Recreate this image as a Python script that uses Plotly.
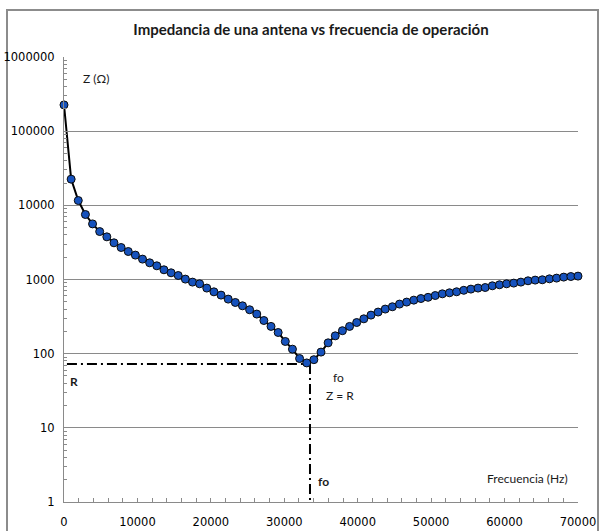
import plotly.graph_objects as go

# Frequency (Hz) of each measured point
frecuencia = [0, 972, 1944, 2917, 3889, 4861, 5833, 6806, 7778, 8750, 9722, 10694,
              11667, 12639, 13611, 14583, 15556, 16528, 17500, 18472, 19444, 20417,
              21389, 22361, 23333, 24306, 25278, 26250, 27222, 28194, 29167, 30139,
              31111, 32083, 33056, 34028, 35000, 35972, 36944, 37917, 38889, 39861,
              40833, 41806, 42778, 43750, 44722, 45694, 46667, 47639, 48611, 49583,
              50556, 51528, 52500, 53472, 54444, 55417, 56389, 57361, 58333, 59306,
              60278, 61250, 62222, 63194, 64167, 65139, 66111, 67083, 68056, 69028, 70000]

# Impedance magnitude Z (ohm)
impedancia = [226000, 22540, 11610, 7520, 5620, 4430, 3760, 3123, 2700, 2385, 2132, 1883,
              1679, 1530, 1352, 1231, 1132, 1012, 922, 875, 766, 682,
              616, 544, 490, 442, 391, 342, 280, 233, 193, 146,
              115, 86, 75, 83, 105, 140, 174, 204, 233, 263,
              295, 331, 364, 399, 429, 466, 496, 527, 554, 575,
              608, 641, 662, 683, 715, 742, 766, 780, 822, 849,
              875, 894, 922, 960, 981, 991, 1021, 1044, 1077, 1097, 1111]

# Resonance markers
R_valor = 72.6
fo_valor = 33500
R_linea_x = [400, fo_valor]
R_linea_y = [R_valor, R_valor]
fo_linea_x = [fo_valor, fo_valor]
fo_linea_y = [R_valor, 1]

x_ticks = [0, 10000, 20000, 30000, 40000, 50000, 60000, 70000]
y_ticks = [1, 10, 100, 1000, 10000, 100000, 1000000]

titulo = "Impedancia de una antena vs frecuencia de operación"

fig = go.Figure()

fig.add_trace(go.Scatter(
    x=R_linea_x, y=R_linea_y, mode="lines",
    line=dict(color="black", width=2, dash="10px,4px,2px,4px"),
    hoverinfo="skip", showlegend=False, cliponaxis=False))
fig.add_trace(go.Scatter(
    x=fo_linea_x, y=fo_linea_y, mode="lines",
    line=dict(color="black", width=2, dash="10px,4px,2px,4px"),
    hoverinfo="skip", showlegend=False, cliponaxis=False))

fig.add_trace(go.Scatter(
    x=frecuencia, y=impedancia, mode="lines+markers",
    line=dict(color="black", width=2),
    marker=dict(size=8, color="#1652bd", line=dict(color="#0a0a0a", width=1)),
    showlegend=False, cliponaxis=False))

tick_font = dict(family="DejaVu Sans", size=11.5, color="#000000")
txt_font = dict(family="Lato", size=12, color="#1a1a1a")


def nota(texto, px, py):
    return dict(text=texto, x=(px - 64) / 514, y=(502 - py) / 445, xref="paper", yref="paper",
                xanchor="center", yanchor="middle", showarrow=False, font=txt_font)


fig.update_layout(
    width=602, height=531,
    margin=dict(l=64, r=24, t=57, b=29),
    paper_bgcolor="white", plot_bgcolor="white",
    title=dict(text="<b>" + titulo + "</b>", x=0.5166, xref="container", xanchor="center",
               y=1 - 30 / 531, yref="container", yanchor="middle",
               font=dict(family="Lato", size=15, color="#1a1a1a")),
    xaxis=dict(range=[0, 70000], tickvals=x_ticks, ticktext=[str(v) for v in x_ticks],
               automargin=False,
               showgrid=False, zeroline=False, showline=True, linecolor="#8a8a8a", linewidth=1,
               ticks="inside", ticklen=4, tickcolor="#8a8a8a", tickfont=tick_font,
               ticklabelstandoff=9,
               minor=dict(ticks="inside", dtick=2000, ticklen=4, tickcolor="#8a8a8a", showgrid=False)),
    yaxis=dict(type="log", range=[0, 6], tickvals=y_ticks, ticktext=[str(v) for v in y_ticks],
               automargin=False,
               showgrid=True, gridcolor="#8a8a8a", gridwidth=1, zeroline=False,
               showline=True, linecolor="#8a8a8a", linewidth=1,
               ticks="inside", ticklen=5, tickcolor="#8a8a8a", tickfont=tick_font,
               ticklabelstandoff=6,
               minor=dict(ticks="inside", dtick="D1", ticklen=3, tickcolor="#8a8a8a", showgrid=False)),
    shapes=[dict(type="rect", xref="paper", yref="paper",
                 x0=(7 - 64) / 514, x1=(598 - 64) / 514,
                 y0=(502 - 540) / 445, y1=(502 - 10) / 445,
                 line=dict(color="#8c8c8c", width=2), fillcolor="rgba(0,0,0,0)", layer="below")],
    annotations=[
        nota("Z (Ω)", 96, 79),
        nota("<b>R</b>", 74, 381),
        nota("fo", 338, 377),
        nota("Z = R", 340, 395),
        nota("<b>fo</b>", 323, 481),
        nota("Frecuencia (Hz)", 527, 478),
    ],
)

fig.write_html("out.html", config={"displayModeBar": False},
               post_script="document.body.style.margin='0';document.body.style.overflow='hidden';")
